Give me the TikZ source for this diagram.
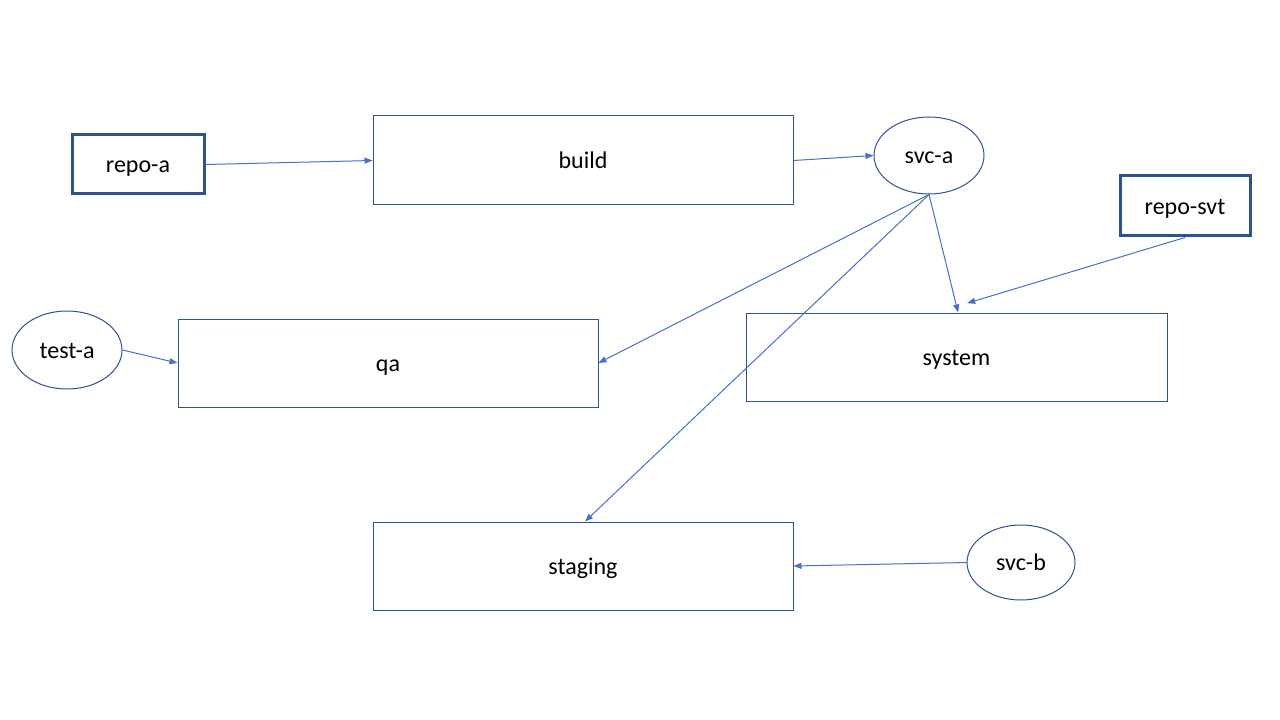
\documentclass[tikz,border=0pt]{standalone}
\usepackage{fontspec}
\setmainfont{Carlito}
\usetikzlibrary{shapes.geometric,arrows.meta}
\definecolor{edgeblue}{HTML}{2F528F}
\definecolor{linkblue}{HTML}{4472C4}
\begin{document}
\begin{tikzpicture}[x=0.75pt,y=-0.75pt,
  every node/.style={font=\fontsize{18}{21.6}\selectfont, text=black, inner sep=0pt,
    text height=12.6pt, text depth=0pt},
  stagebox/.style={draw=edgeblue, line width=0.75pt, rectangle},
  repobox/.style={draw=edgeblue, line width=2.25pt, rectangle},
  svcoval/.style={draw=edgeblue, line width=0.75pt, ellipse},
  link/.style={draw=linkblue, line width=0.75pt, -{Triangle[length=6pt,width=4.5pt]}}]
\useasboundingbox (0,0) rectangle (1280,720);
% boxes
\node[repobox, minimum width=132*0.75pt, minimum height=59*0.75pt] (repoa) at (138,164.5) {repo-a};
\node[stagebox, minimum width=420*0.75pt, minimum height=89*0.75pt] (build) at (583,160.5) {build};
\node[svcoval, minimum width=110*0.75pt, minimum height=77*0.75pt] (svca) at (929,155.5) {svc-a};
\node[repobox, minimum width=130*0.75pt, minimum height=60*0.75pt] (reposvt) at (1185,206) {repo-svt};
\node[svcoval, minimum width=110*0.75pt, minimum height=78*0.75pt] (testa) at (67,350) {test-a};
\node[stagebox, minimum width=420*0.75pt, minimum height=88*0.75pt] (qa) at (388,363) {qa};
\node[stagebox, minimum width=421*0.75pt, minimum height=88*0.75pt] (system) at (956.5,357) {system};
\node[stagebox, minimum width=420*0.75pt, minimum height=88*0.75pt] (staging) at (583,566) {staging};
\node[svcoval, minimum width=108*0.75pt, minimum height=75*0.75pt] (svcb) at (1021,562.5) {svc-b};
% connectors
\draw[link] (repoa.east) -- (build.west);
\draw[link] (build.east) -- (svca.west);
\draw[link] (svca.south) -- (qa.east);
\draw[link] (svca.south) -- ([xshift=1.5pt]staging.north);
\draw[link] (svca.south) -- ([xshift=1.2pt]system.north);
\draw[link] (reposvt.south) -- ([xshift=8pt,yshift=7pt]system.north);
\draw[link] (testa.east) -- (qa.west);
\draw[link] (svcb.west) -- (staging.east);
\end{tikzpicture}
\end{document}
